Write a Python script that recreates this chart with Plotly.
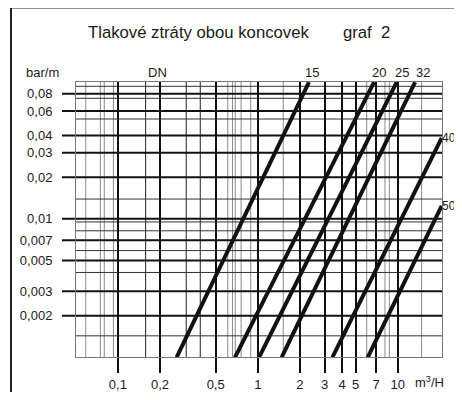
import plotly.graph_objects as go

# ---- data ----
x_tick_vals = [0.1, 0.2, 0.5, 1, 2, 3, 4, 5, 7, 10]
x_tick_text = ["0,1", "0,2", "0,5", "1", "2", "3", "4", "5", "7", "10"]
y_tick_vals = [0.08, 0.06, 0.04, 0.03, 0.02, 0.01, 0.007, 0.005, 0.003, 0.002, 0.001]
y_tick_text = ["0,08", "0,06", "0,04", "0,03", "0,02", "0,01", "0,007", "0,005", "0,003", "0,002", "0,001"]

# extra unlabeled grid lines of the original sheet
x_grid_light = [0.059, 0.075, 0.08, 0.093, 0.61, 0.66, 0.69, 0.76, 0.89, 1.52, 6.0, 8.1, 8.7, 14.8]
x_grid_dark = [0.158, 0.308, 0.388]
y_grid_thin = [0.0906, 0.0742, 0.0526, 0.0139, 0.0095, 0.0082, 0.0059, 0.0041, 0.00143]

# pressure-loss lines per DN (flow m3/h, loss bar/m)
dn_labels = ["15", "20", "25", "32", "40", "50"]
flow_dn15 = [0.263, 2.32]
loss_dn15 = [0.001, 0.097]
flow_dn20 = [0.687, 6.77]
loss_dn20 = [0.001, 0.097]
flow_dn25 = [1.02, 9.83]
loss_dn25 = [0.001, 0.097]
flow_dn32 = [1.48, 13.3]
loss_dn32 = [0.001, 0.097]
flow_dn40 = [3.41, 20.6]
loss_dn40 = [0.001, 0.0384]
flow_dn50 = [6.10, 20.6]
loss_dn50 = [0.001, 0.0124]

FONT = "Liberation Sans, Arial, sans-serif"
INK = "#1a1a1a"
FS = 13

fig = go.Figure()
for f, l, name in [(flow_dn15, loss_dn15, "15"), (flow_dn20, loss_dn20, "20"),
                   (flow_dn25, loss_dn25, "25"), (flow_dn32, loss_dn32, "32"),
                   (flow_dn40, loss_dn40, "40"), (flow_dn50, loss_dn50, "50")]:
    fig.add_trace(go.Scatter(x=f, y=l, mode="lines", name="DN " + name,
                             line=dict(color="#111111", width=4),
                             showlegend=False, hoverinfo="skip"))

shapes = []
for v in x_grid_light:
    shapes.append(dict(type="line", xref="x", yref="paper", x0=v, x1=v, y0=0, y1=1,
                       line=dict(color="#8a8a8a", width=1), layer="below"))
for v in x_grid_dark:
    shapes.append(dict(type="line", xref="x", yref="paper", x0=v, x1=v, y0=0, y1=1,
                       line=dict(color="#222222", width=1), layer="below"))
for v in y_grid_thin:
    shapes.append(dict(type="line", xref="paper", yref="y", x0=0, x1=1, y0=v, y1=v,
                       line=dict(color="#333333", width=1), layer="below"))
# labeled horizontal lines, extended to the left as ticks
for v in y_tick_vals[:-1]:
    shapes.append(dict(type="line", xref="paper", yref="y", x0=-0.0383, x1=1, y0=v, y1=v,
                       line=dict(color="#111111", width=2), layer="below"))
# outer frame of the sheet
shapes.append(dict(type="rect", xref="paper", yref="paper", x0=-0.1776, x1=1.3,
                   y0=-0.4, y1=1.2705, line=dict(color="#222222", width=2)))

ann = []
def txt(x, y, s, size=FS, xanchor="center"):
    ann.append(dict(x=x, y=y, xref="paper", yref="paper", text=s, showarrow=False,
                    xanchor=xanchor, yanchor="middle", borderpad=0,
                    font=dict(family=FONT, size=size, color=INK)))

txt(0.0301, 1.1795, "Tlakové ztráty obou koncovek", size=16.7, xanchor="left")
txt(0.7266, 1.1795, "graf", size=16.7, xanchor="left")
txt(0.8300, 1.1795, "2", size=16.7, xanchor="left")
txt(-0.1395, 1.0349, "bar/m", xanchor="left")
txt(0.2229, 1.0349, "DN")
label_x = [0.6453, 0.8286, 0.8901, 0.9489]
for lx, s in zip(label_x, dn_labels[:4]):
    txt(lx, 1.0349, s)
txt(0.9986, 0.7961, dn_labels[4], size=12, xanchor="left")
txt(0.9986, 0.5508, dn_labels[5], size=12, xanchor="left")
txt(0.9243, -0.0899, "m<sup>3</sup>/H", xanchor="left")

# the page body adds an 8 px margin; the figure is sized to fit inside it
fig.update_layout(
    width=446, height=384,
    margin=dict(l=68, r=12, t=74, b=35, autoexpand=False),
    paper_bgcolor="white", plot_bgcolor="rgba(0,0,0,0)",
    shapes=shapes, annotations=ann,
    font=dict(family=FONT, size=FS, color=INK),
)
fig.update_xaxes(type="log", range=[-1.2989, 1.3160], automargin=False,
                 tickvals=x_tick_vals, ticktext=x_tick_text,
                 showgrid=True, gridcolor="#111111", gridwidth=2,
                 ticks="outside", ticklen=15, tickwidth=2, tickcolor="#111111",
                 showline=True, linecolor="#777777", linewidth=1, mirror=True,
                 zeroline=False, tickfont=dict(size=FS, color=INK))
fig.update_yaxes(type="log", range=[-2.9975, -1.0118], automargin=False,
                 tickvals=y_tick_vals, ticktext=y_tick_text,
                 showgrid=False, ticks="outside", ticklen=20,
                 tickcolor="rgba(0,0,0,0)",
                 showline=True, linecolor="#777777", linewidth=1, mirror=True,
                 zeroline=False, tickfont=dict(size=FS, color=INK))

fig.write_html("out.html")
